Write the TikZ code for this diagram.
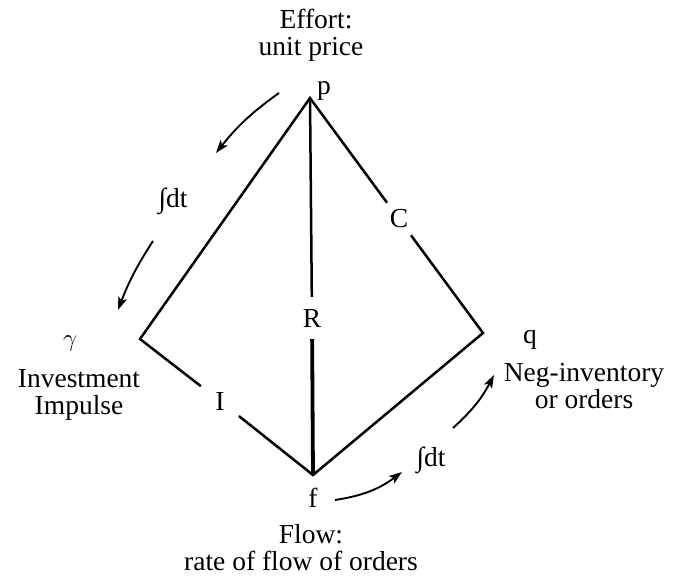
\documentclass[tikz,border=0pt]{standalone}
\usepackage{fontspec}
\setmainfont{Liberation Serif}
\usetikzlibrary{arrows.meta}
\begin{document}
\begin{tikzpicture}[x=1pt,y=-1pt,
  every node/.style={font=\fontsize{27.5}{27}\selectfont, inner sep=0pt},
  edge/.style={line width=2.5pt, line join=miter},
  thickedge/.style={line width=3.8pt},
  gap/.style={circle, inner sep=0pt},
  flowarrow/.style={line width=1.9pt, -{Stealth[length=13pt,width=9pt,inset=3pt]}},
  lbl/.style={anchor=base, align=center}]
\useasboundingbox (0,0) rectangle (675,578);
% vertices
\coordinate (P) at (310,98);
\coordinate (L) at (140,339);
\coordinate (Q) at (483,333);
\coordinate (F) at (313,475);
% edge labels
\node[gap, minimum size=40pt] (C) at (399,219) {C};
\node[gap, minimum size=48pt] (I) at (220,401) {I};
\node[gap, minimum size=42pt] (R) at (312,318) {R};
% edges
\draw[edge] (I) -- (L) -- (P) -- (C);
\draw[edge] (C) -- (Q) -- (F) -- (I);
\draw[edge] (P) -- (R);
\draw[thickedge] (R) -- (F);
% vertex labels
\node[lbl] (plab) at (324,95) {p};
\node[lbl] (effort) at (311,56) {\hspace*{10pt}Effort:\\unit price};
\node[lbl] (flab) at (313,507) {f};
\node[lbl] (flow) at (301,570) {\hspace*{20pt}Flow:\\rate of flow of orders};
\node[lbl] (qlab) at (530,343) {q};
\node[lbl] (neg) at (584,408) {Neg-inventory\\or orders};
\node[lbl] (glab) at (70,346) {$\gamma$};
\node[lbl] (inv) at (79,414) {Investment\\Impulse};
% integration arrows
\coordinate (a1s) at (279,93);
\coordinate (a1e) at (216,153);
\node[lbl] (int1) at (173,207) {∫dt};
\coordinate (a2s) at (153,241);
\coordinate (a2e) at (118,310);
\coordinate (a3s) at (335,500);
\coordinate (a3e) at (402,472);
\node[lbl] (int2) at (431,466) {∫dt};
\coordinate (a4s) at (453,428);
\coordinate (a4e) at (494,375);
\draw[flowarrow] (a1s) to[bend right=8] (a1e);
\draw[flowarrow] (a2s) to[bend right=6] (a2e);
\draw[flowarrow] (a3s) to[bend right=14] (a3e);
\draw[flowarrow] (a4s) to[bend right=10] (a4e);
\end{tikzpicture}
\end{document}
